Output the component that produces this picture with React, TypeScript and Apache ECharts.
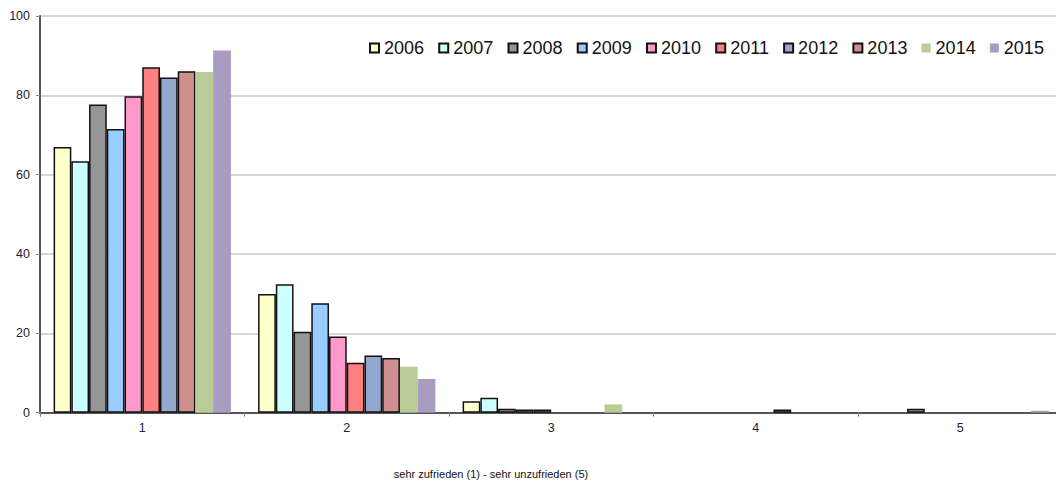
import React, { useEffect, useRef } from "react";
import * as echarts from "echarts";

const categories = ["1", "2", "3", "4", "5"];
const years = ["2006", "2007", "2008", "2009", "2010", "2011", "2012", "2013", "2014", "2015"];
const y2006 = [67.0, 29.9, 2.9, 0, 0];
const y2007 = [63.4, 32.4, 3.8, 0, 0];
const y2008 = [77.7, 20.4, 1.0, 0, 1.0];
const y2009 = [71.5, 27.6, 0.8, 0, 0];
const y2010 = [79.8, 19.2, 0.8, 0, 0];
const y2011 = [87.1, 12.6, 0, 0, 0];
const y2012 = [84.5, 14.4, 0, 0.8, 0];
const y2013 = [86.1, 13.8, 0, 0, 0];
const y2014 = [85.9, 11.6, 2.1, 0, 0];
const y2015 = [91.3, 8.5, 0, 0, 0.5];
const seriesValues = [y2006, y2007, y2008, y2009, y2010, y2011, y2012, y2013, y2014, y2015];
const colors = ["#FFFFCC", "#CCFFFF", "#969696", "#99CCFF", "#FF99CC", "#FF8080", "#94A8CF", "#CF8F8F", "#B9CC97", "#A89CC0"];
const bordered = [true, true, true, true, true, true, true, true, false, false];
const yTicks = [0, 20, 40, 60, 80, 100];
const xTitle = "sehr zufrieden (1) - sehr unzufrieden (5)";

const FONT = "'Liberation Sans', Arial, sans-serif";

export default function App() {
  const ref = useRef<HTMLDivElement>(null);
  useEffect(() => {
    if (!ref.current) return;
    const chart = echarts.init(ref.current, null, { renderer: "svg" });
    chart.setOption({
      animation: false,
      backgroundColor: "#ffffff",
      legend: {
        data: years,
        left: 364,
        top: 34,
        width: 700,
        padding: 5,
        icon: "rect",
        itemWidth: 9,
        itemHeight: 9,
        itemGap: 14.2,
        textStyle: { fontFamily: FONT, fontSize: 18, color: "#111" },
      },
      grid: {
        left: 40,
        top: 16,
        width: 1022.5,
        height: 396.7,
        outerBoundsMode: "none",
      },
      xAxis: {
        type: "category",
        data: categories,
        boundaryGap: true,
        axisLine: { lineStyle: { color: "#555", width: 2 } },
        axisTick: { show: true, length: 4, lineStyle: { color: "#888" } },
        axisLabel: { fontFamily: FONT, fontSize: 12.5, color: "#223", margin: 9 },
        splitLine: { show: false },
      },
      yAxis: {
        type: "value",
        min: yTicks[0],
        max: yTicks[yTicks.length - 1],
        interval: 20,
        axisLine: { show: true, lineStyle: { color: "#555", width: 2 } },
        axisTick: { show: true, length: 4, lineStyle: { color: "#888" } },
        axisLabel: { fontFamily: FONT, fontSize: 12.5, color: "#223", margin: 10 },
        splitLine: { show: true, lineStyle: { color: "#c8c8c8", width: 1.5 } },
      },
      graphic: [
        {
          type: "text",
          x: 491,
          y: 474,
          style: {
            text: xTitle,
            fontFamily: FONT,
            fontSize: 11,
            fill: "#111",
            textAlign: "center",
            textVerticalAlign: "middle",
          },
        },
      ],
      series: years.map((name, i) => ({
        name,
        type: "bar",
        data: seriesValues[i].map((v) => (v === 0 ? "-" : v)),
        barGap: "0%",
        barCategoryGap: "13.3%",
        itemStyle: {
          color: colors[i],
          borderColor: bordered[i] ? "#111" : colors[i],
          borderWidth: bordered[i] ? 1.5 : 0,
        },
      })),
    });
    return () => chart.dispose();
  }, []);
  return (
    <div
      ref={ref}
      style={{ position: "absolute", left: 0, top: 0, width: 1056, height: 491 }}
    />
  );
}
